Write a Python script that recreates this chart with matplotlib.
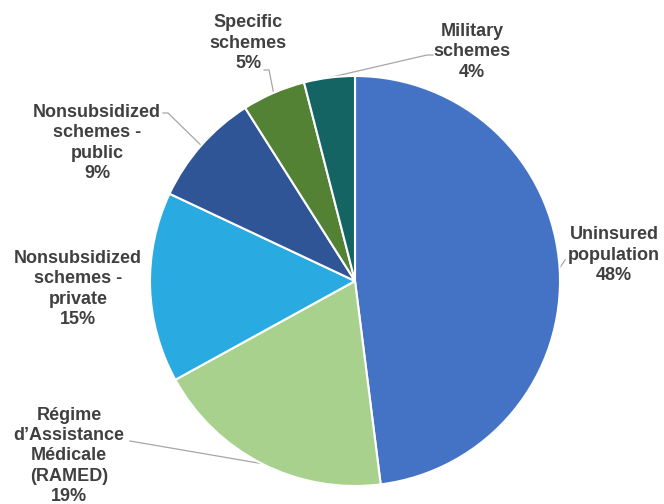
import numpy as np
import matplotlib.pyplot as plt

# Health coverage shares (%)
labels = ["Uninsured\npopulation",
          "Régime\nd’Assistance\nMédicale\n(RAMED)",
          "Nonsubsidized\nschemes -\nprivate",
          "Nonsubsidized\nschemes -\npublic",
          "Specific\nschemes",
          "Military\nschemes"]
shares = [48, 19, 15, 9, 5, 4]
colors = ["#4472C4", "#A9D18E", "#29ABE2", "#2F5597", "#548235", "#146464"]

plt.rcParams['font.family'] = ['Liberation Sans', 'DejaVu Sans']

fig = plt.figure(figsize=(6.64, 5.04), dpi=100)
ax = fig.add_axes([0, 0, 1, 1])

cx, cy, r = 355, 223, 205
wedges, _ = ax.pie(shares, colors=colors, startangle=90, counterclock=False,
                   center=(cx, cy), radius=r,
                   wedgeprops=dict(edgecolor='white', linewidth=1.5))
ax.set_xlim(0, 664)
ax.set_ylim(0, 504)
ax.axis('off')

# label centres and leader-line bends (None = no leader)
label_pos = [(614, 249), (69, 48), (78, 215), (97, 361), (248, 461), (472, 452)]
leaders = [[(565, 244)],
           [(130, 63)],
           None,
           [(168, 391), (163, 391)],
           [(269, 434), (264, 434)],
           [(427, 449), (433, 449)]]

for w, lab, pct, pos, ld in zip(wedges, labels, shares, label_pos, leaders):
    ax.text(pos[0], pos[1], f"{lab}\n{pct}%", ha='center', va='center',
            fontsize=13, fontweight='bold', color='#404040', linespacing=1.26)
    if ld:
        mid = np.deg2rad((w.theta1 + w.theta2) / 2)
        pts = [(cx + r * np.cos(mid), cy + r * np.sin(mid))] + ld
        xs, ys = zip(*pts)
        ax.plot(xs, ys, color='#A6A6A6', lw=0.9, zorder=0.5)

fig.savefig("out.png", dpi=100)
